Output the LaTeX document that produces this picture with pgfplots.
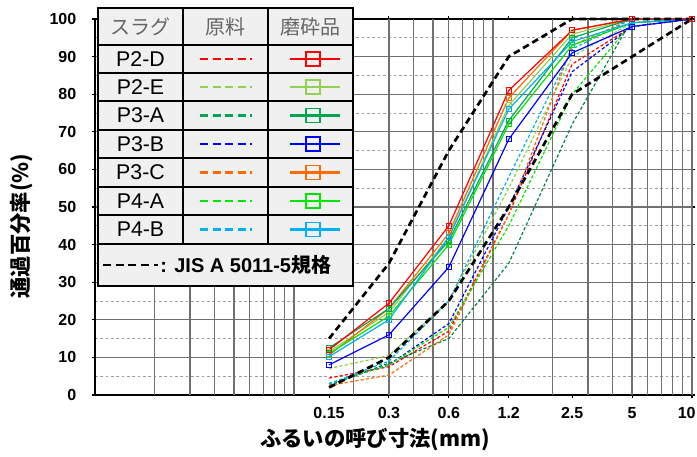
\documentclass[border=0pt]{standalone}
\usepackage{fontspec}
\setmainfont{Liberation Sans}
\newfontfamily\jp{Noto Sans CJK JP}
\usepackage{pgfplots}
\pgfplotsset{compat=1.18}
\definecolor{cA}{HTML}{FF0000}
\definecolor{cB}{HTML}{92D050}
\definecolor{cC}{HTML}{00A650}
\definecolor{cD}{HTML}{0000FF}
\definecolor{cE}{HTML}{FF6A00}
\definecolor{cF}{HTML}{00E600}
\definecolor{cG}{HTML}{00B0F0}
\definecolor{tabbg}{HTML}{F0F0F0}
\definecolor{gridc}{HTML}{707070}
\pgfplotsset{
  raw/.style={line width=0.9pt, dash pattern=on 2.4pt off 1.6pt, mark=none},
  grd/.style={line width=0.9pt, mark=square, mark size=1.9pt, mark options={solid, line width=0.7pt}},
  jis/.style={black, line width=2pt, dash pattern=on 5pt off 3pt, mark=none},
}
\begin{document}
\begin{tikzpicture}[x=0.75pt,y=0.75pt]
\useasboundingbox (0,0) rectangle (697,457);
\begin{axis}[
  at={(71.25pt,46.5pt)}, anchor=south west,
  width=447.75pt, height=282pt, scale only axis,
  xmode=log, xmin=0.01, xmax=10, ymin=0, ymax=100,
  /pgf/number format/assume math mode=true,
  xtick={0.15,0.3,0.6,1.2,2.5,5,10},
  xticklabels={0.15,0.3,0.6,1.2,2.5,5,\hspace*{-8pt}10},
  minor xtick={},
  extra x ticks={0.02,0.03,0.04,0.05,0.06,0.07,0.08,0.09,0.1,0.2,0.3,0.4,0.5,0.6,0.7,0.8,0.9,1,2,3,4,5,6,7,8,9,10},
  extra x tick labels={},
  extra x tick style={grid=major, major tick length=0pt},
  ytick={0,10,...,100},
  minor ytick={5,15,...,95},
  ymajorgrids, yminorgrids,
  major grid style={gridc, line width=0.9pt},
  minor grid style={gridc!70, line width=0.7pt, dash pattern=on 2pt off 2pt},
  tick align=outside, major tick length=2.5pt, minor tick length=0pt,
  tick style={black, line width=0.8pt},
  axis line style={black, line width=1pt},
  xticklabel style={font=\bfseries\fontsize{12}{12}\selectfont, yshift=-3pt},
  yticklabel style={font=\bfseries\fontsize{12}{12}\selectfont, xshift=-8pt},
  clip=false,
]
% raw (原料)
\addplot[raw, cA] coordinates {(0.15,4.5) (0.3,7.5) (0.6,17) (1.2,48) (2.5,88) (5,98) (10,100)};
\addplot[raw, cB] coordinates {(0.15,7) (0.3,10.5) (0.6,25) (1.2,55) (2.5,90) (5,99) (10,100)};
\addplot[raw, cC!80!black] coordinates {(0.15,2.5) (0.3,8.5) (0.6,15) (1.2,35) (2.5,72) (5,100) (10,100)};
\addplot[raw, cD] coordinates {(0.15,3) (0.3,8) (0.6,19) (1.2,50) (2.5,86) (5,98) (10,100)};
\addplot[raw, cE] coordinates {(0.15,2.5) (0.3,5.3) (0.6,16) (1.2,48) (2.5,93) (5,100) (10,100)};
\addplot[raw, cF] coordinates {(0.15,3) (0.3,8) (0.6,18) (1.2,45) (2.5,80) (5,99) (10,100)};
\addplot[raw, cG] coordinates {(0.15,3) (0.3,9) (0.6,25) (1.2,58) (2.5,92) (5,100) (10,100)};
% ground (磨砕品)
\addplot[grd, cB] coordinates {(0.15,11.5) (0.3,22) (0.6,42) (1.2,77) (2.5,96) (5,100) (10,100)};
\addplot[grd, cE] coordinates {(0.15,10.6) (0.3,23) (0.6,43) (1.2,79) (2.5,97) (5,100) (10,100)};
\addplot[grd, cF] coordinates {(0.15,11) (0.3,21) (0.6,40) (1.2,72) (2.5,93) (5,99) (10,100)};
\addplot[grd, cC] coordinates {(0.15,12.5) (0.3,23) (0.6,41) (1.2,73) (2.5,95) (5,100) (10,100)};
\addplot[grd, cG] coordinates {(0.15,10.2) (0.3,20) (0.6,42) (1.2,76) (2.5,94) (5,99) (10,100)};
\addplot[grd, cD] coordinates {(0.15,8) (0.3,16) (0.6,34) (1.2,68) (2.5,91) (5,98) (10,100)};
\addplot[grd, cA] coordinates {(0.15,12) (0.3,24.4) (0.6,45) (1.2,81) (2.5,97) (5,100) (10,100)};
% JIS A 5011-5
\addplot[jis] coordinates {(0.15,15) (0.3,35) (0.6,65) (1.2,90) (2.5,100) (5,100) (10,100)};
\addplot[jis] coordinates {(0.15,2) (0.3,10) (0.6,25) (1.2,50) (2.5,80) (5,90) (10,100)};
\end{axis}
% axis labels
\node[font=\jp\bfseries\fontsize{16}{16}\selectfont] at (375,17) {ふるいの呼び寸法(mm)};
\node[font=\jp\bfseries\fontsize{16}{16}\selectfont, rotate=90] at (22,231) {通過百分率(\%)};
% legend table
\fill[tabbg] (98,171) rectangle (353,449);
\begin{scope}[line width=1.2pt, black]
\draw (98,171) rectangle (353,449);
\foreach \yy in {412,384,356,327,299,270,242,213} \draw (98,\yy) -- (353,\yy);
\draw (183,449) -- (183,213);
\draw (268,449) -- (268,213);
\end{scope}
\node[font=\jp\fontsize{15}{15}\selectfont, text=black!60] at (140.5,430.5) {スラグ};
\node[font=\jp\fontsize{15}{15}\selectfont, text=black!60] at (225.5,430.5) {原料};
\node[font=\jp\fontsize{15}{15}\selectfont, text=black!60] at (310.5,430.5) {磨砕品};
\foreach \nm/\cc/\yy in {P2-D/cA/398, P2-E/cB/370, P3-A/cC/341.5, P3-B/cD/313, P3-C/cE/284.5, P4-A/cF/256, P4-B/cG/227.5}{
  \node[font=\fontsize{16}{16}\selectfont] at (140.5,\yy) {\nm};
  \draw[\cc, line width=1.7pt, dash pattern=on 6pt off 3.4pt] (200,\yy) -- (252,\yy);
  \draw[\cc, line width=1.6pt] (290,\yy) -- (340,\yy);
  \draw[\cc, line width=1.4pt] (306,\yy-7) rectangle (320,\yy+7);
}
\draw[black, line width=2pt, dash pattern=on 6pt off 3.5pt] (103,192) -- (158,192);
\node[font=\bfseries\fontsize{15}{15}\selectfont, anchor=west, inner sep=0pt] at (160,192) {: JIS A 5011-5{\jp\bfseries 規格}};
\end{tikzpicture}
\end{document}
